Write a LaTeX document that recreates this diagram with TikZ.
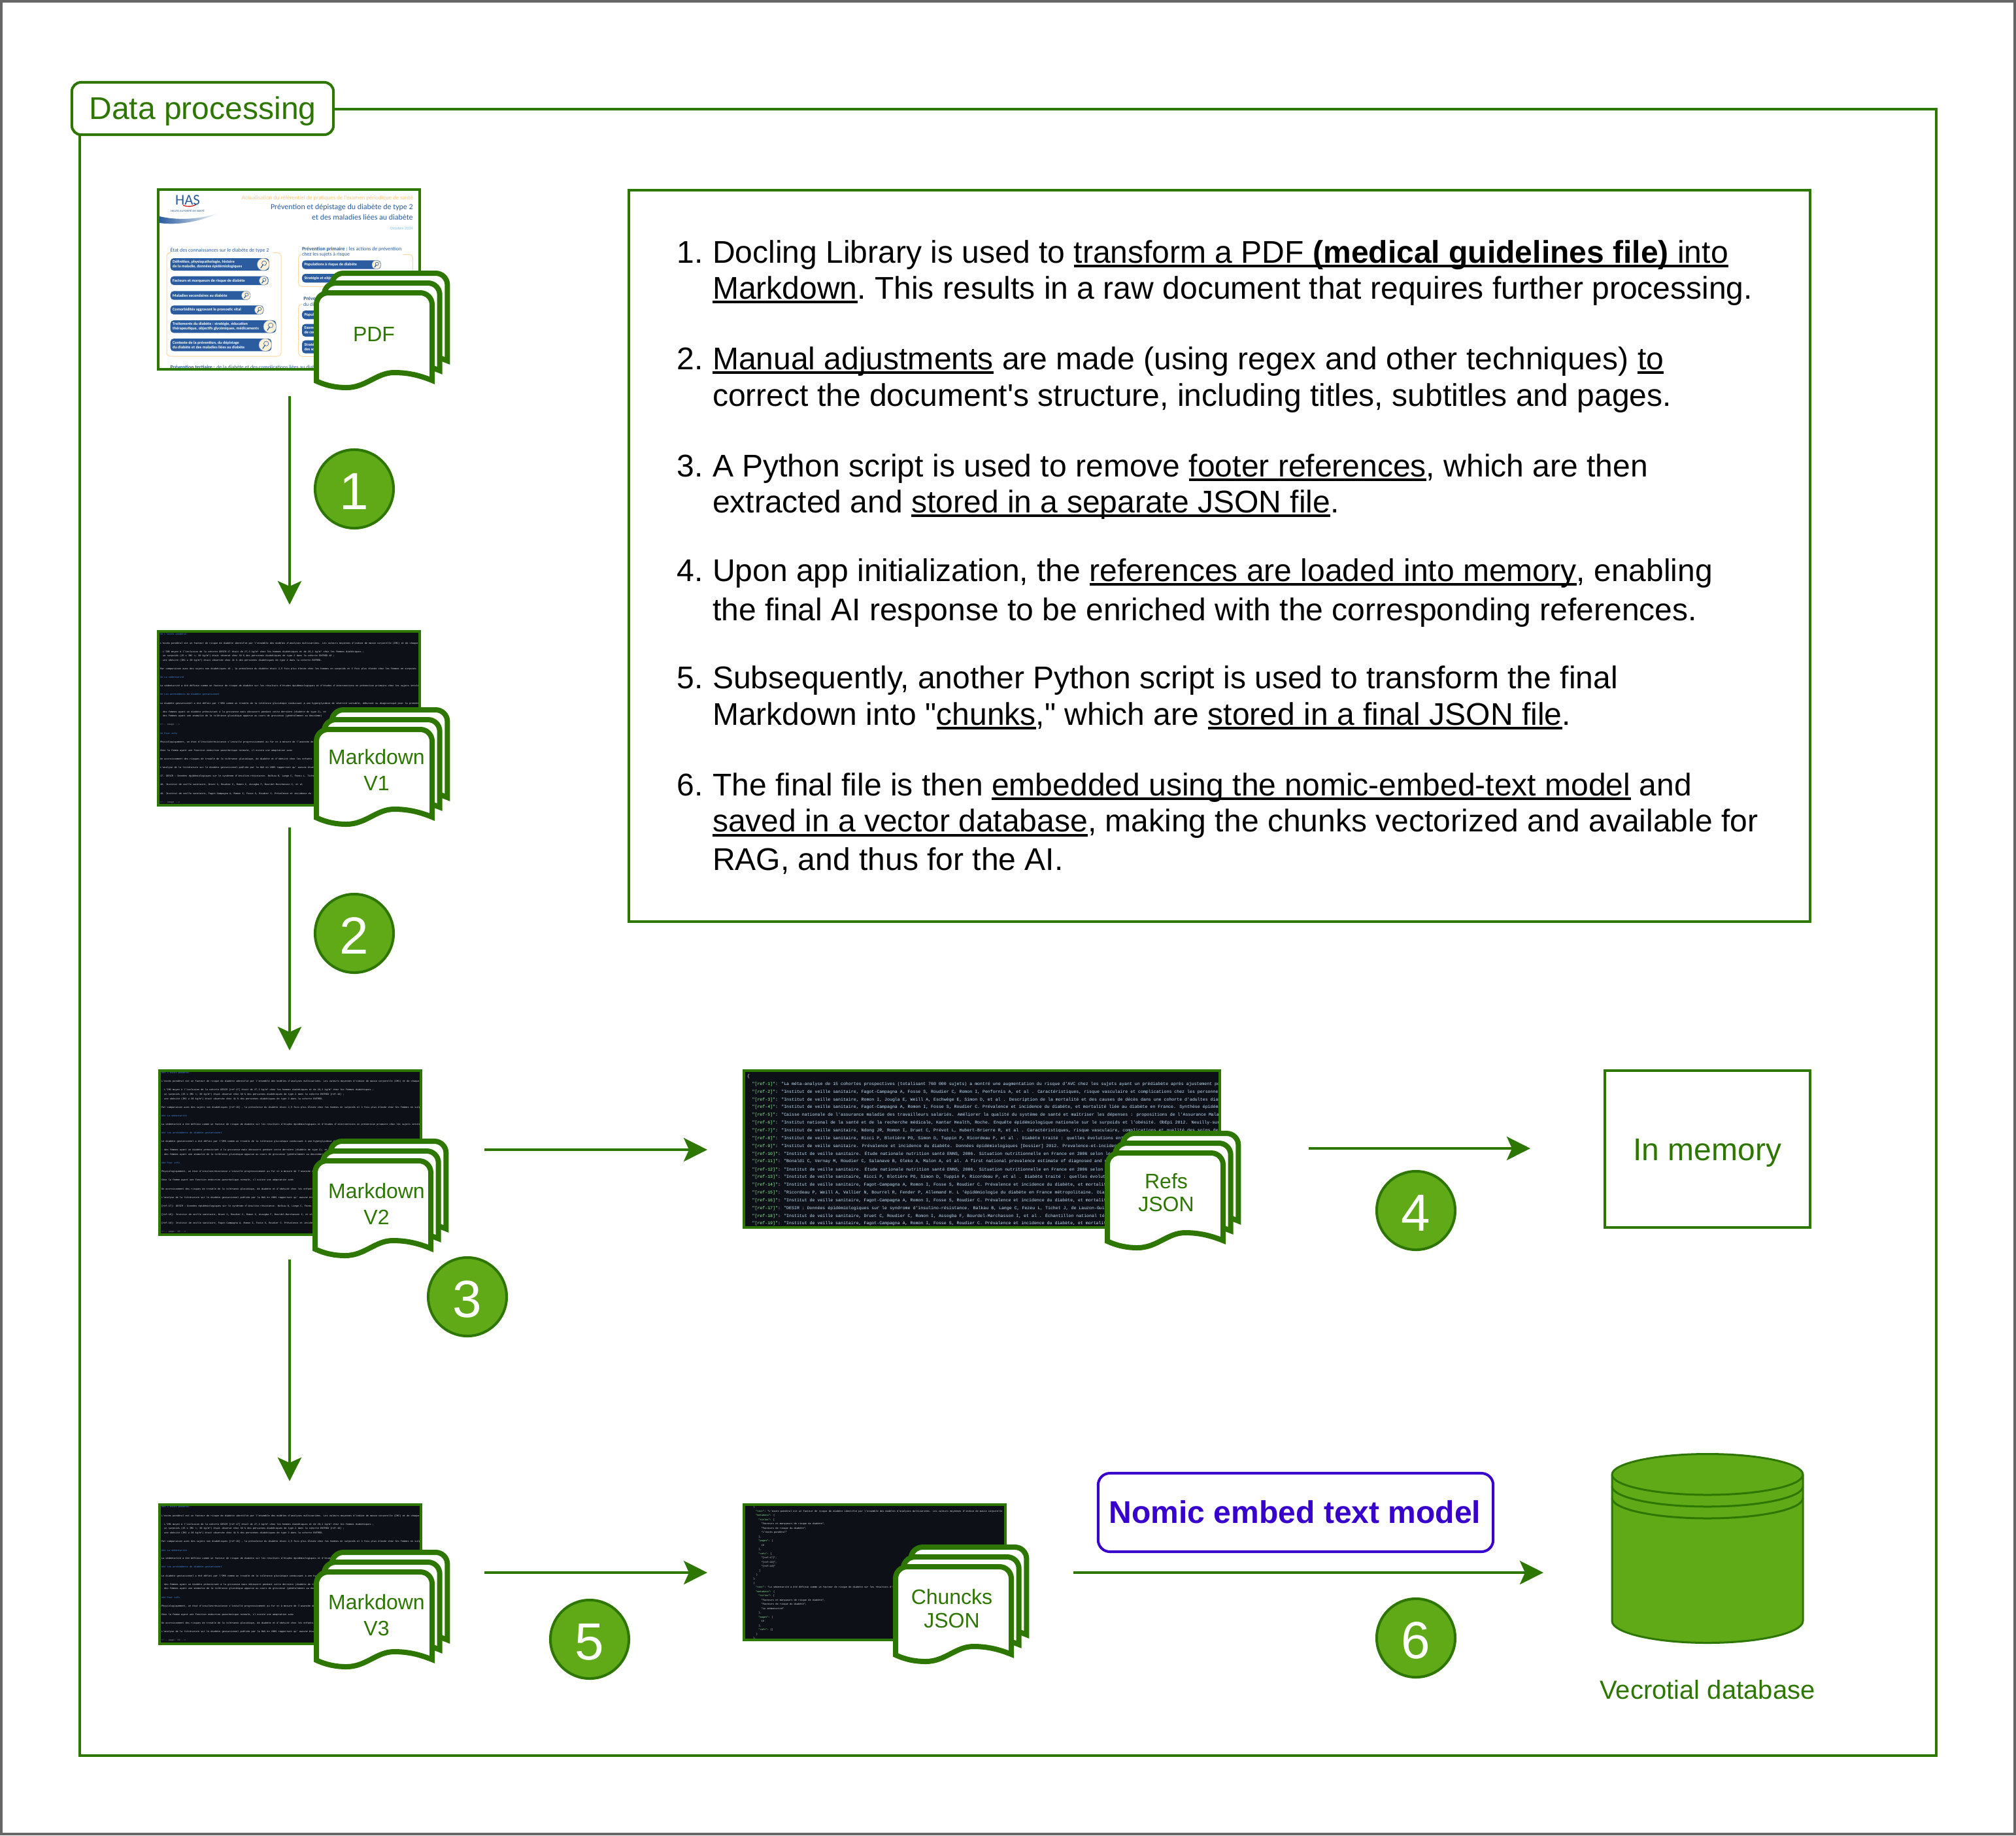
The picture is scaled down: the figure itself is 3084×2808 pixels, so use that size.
\documentclass[tikz,border=0pt]{standalone}
\usepackage{fontspec}
\usepackage{xcolor}
\usetikzlibrary{arrows.meta}
\newfontfamily\arialfont{Liberation Sans}
\newfontfamily\shotfont{Liberation Mono}
\newfontfamily\thumbfont{Carlito}
\definecolor{procgreen}{HTML}{2D7600}
\definecolor{badgegreen}{HTML}{60A917}
\definecolor{nomicblue}{HTML}{3700CC}
\definecolor{shotbg}{HTML}{0D1117}
\definecolor{shotgrey}{HTML}{E6EDF3}
\definecolor{shotblue}{HTML}{4493F8}
\definecolor{shotorange}{HTML}{E3763A}
\definecolor{shotdim}{HTML}{8D95A0}
\definecolor{jsonkey}{HTML}{8EF797}
\definecolor{jsonval}{HTML}{C4E4FF}
\definecolor{hasblue}{HTML}{2A5C9F}
\definecolor{hasorange}{HTML}{FBC77C}
\definecolor{hassky}{HTML}{7FC8EE}
\definecolor{hascream}{HTML}{FFF1D6}
\newcommand{\ulined}[1]{\setbox0\hbox{#1}\rlap{\rule[-0.074cm]{\wd0}{0.04cm}}\box0\relax}
\newcommand{\hdline}[1]{\textcolor{shotblue}{#1}}
\newcommand{\bul}{\textcolor{shotorange}{-}}
% lines shared by the three markdown screens
\newcommand{\mdbody}{0/{\hdline{\mk\ L'excès pondéral}},
  2/{L'excès pondéral est un facteur de risque de diabète identifié par l'ensemble des modèles d'analyses multivariées. Les valeurs moyennes d'indice de masse corporelle (IMC) et de chaque},
  4/{\bul\ L'IMC  moyen  à  l'inclusion  de  la  cohorte  DESIR\ra\ était  de  27,3  kg/m²  chez  les  hommes  diabétiques  et  de 29,2 kg/m² chez les femmes diabétiques ;},
  5/{\bul\ un surpoids (25 ≤ IMC <; 30 kg/m²) était observé chez 39 \% des personnes diabétiques de type 2 dans la cohorte ENTRED \rb\ ;},
  6/{\bul\ une obésité (IMC ≥ 30 kg/m²) était observée chez 41 \% des personnes diabétiques de type 2 dans la cohorte ENTRED.},
  8/{Par comparaison avec des sujets non diabétiques \rc\ , la prévalence du diabète était 2,5 fois plus élevée chez les hommes en surpoids et 3 fois plus élevée chez les femmes en surpoids},
  10/{\hdline{\mk\ La sédentarité}},
  12/{La sédentarité a été définie comme un facteur de risque de diabète sur les résultats d'études épidémiologiques et d'études d'interventions en prévention primaire chez les sujets intolérants},
  14/{\hdline{\mk\ Les antécédents de diabète gestationnel}},
  16/{Le diabète gestationnel a été défini par l'OMS comme un trouble de la tolérance glucidique conduisant à une hyperglycémie de sévérité variable, débutant ou diagnostiqué pour la première},
  18/{\bul\ des femmes ayant un diabète préexistant à la grossesse mais découvert pendant cette dernière (diabète de type 2), et},
  19/{\bul\ des femmes ayant une anomalie de la tolérance glucidique apparue au cours de grossesse (généralement au deuxième)}}
\newcommand{\phys}{Physiologiquement, un état d'insulinorésistance s'installe progressivement au fur et à mesure de l'avancée de}
\newcommand{\chez}{Chez  la  femme  ayant  une  fonction  endocrine  pancréatique  normale,  il  existe  une  adaptation  avec}
\newcommand{\accr}{Un accroissement des risques de trouble de la tolérance glucidique, de diabète et d'obésité chez les enfants}
\newcommand{\anal}{L'analyse de la littérature sur le diabète gestationnel publiée par la HAS en 2005 rapportait qu' aucune étude}
\newcommand{\desir}{DESIR : Données épidémiologiques sur le syndrome d'insulino-résistance. Balkau B, Lange C, Fezeu L, Tichet}
\newcommand{\druet}{Institut de veille sanitaire, Druet C, Roudier C, Romon I, Assogba F, Bourdel-Marchasson I, et al}
\newcommand{\fagot}{Institut de veille sanitaire, Fagot-Campagna A, Romon I, Fosse S, Roudier C. Prévalence et incidence du}
\newcommand{\mdtailA}{21/{\textcolor{shotdim}{<!-- image -->}}, 23/{\hdline{\mk\ Pour info}}, 25/{\phys}, 27/{\chez}, 29/{\accr}, 31/{\anal},
  33/{17.  \desir}, 35/{18.  \druet}, 37/{19.  \fagot}, 39/{\textcolor{shotdim}{<!-- image -->}}}
\newcommand{\mdtailB}{21/{\hdline{\mk\ Pour info}}, 23/{\phys}, 25/{\chez}, 27/{\accr}, 29/{\anal},
  31/{[ref-17]: \desir}, 33/{[ref-18]: \druet}, 35/{[ref-19]: \fagot}, 37/{\textcolor{shotdim}{<!-- page: 10 -->}}}
\newcommand{\mdtailC}{21/{\hdline{\mk\ Pour info}}, 23/{\phys}, 25/{\chez}, 27/{\accr}, 29/{\anal}, 31/{\textcolor{shotdim}{<!-- page: 10 -->}}}
\newcommand{\mdtext}[4]{%
  \begin{scope}
    \clip (#1.south west) rectangle (#1.north east);
    \foreach \s/\lbl in \mdbody {\node[mdline] (#1b\s) at (#2,{#3+\s*6.57}) {\lbl};}
    \foreach \s/\lbl in #4 {\node[mdline] (#1t\s) at (#2,{#3+\s*6.57}) {\lbl};}
  \end{scope}}
\begin{document}
\begin{tikzpicture}[x=0.01cm, y=-0.01cm, >={Stealth[length=0.36cm,width=0.36cm,inset=0.08cm]},
    every node/.style={inner sep=0, outer sep=0},
    flow/.style={->, draw=procgreen, line width=0.04cm},
    shot/.style 2 args={minimum width=#1*0.01cm, minimum height=#2*0.01cm, fill=shotbg},
    shotframe/.style={draw=procgreen, line width=0.04cm},
    docpage/.style={draw=procgreen, fill=white, line width=0.08cm},
    doclabel/.style={anchor=base, text=procgreen, font=\arialfont\fontsize{9.1}{11}\selectfont},
    boxlabel/.style={anchor=base, font=\arialfont\fontsize{13.66}{16}\selectfont},
    badge/.style={circle, minimum size=1.2cm, draw=procgreen, fill=badgegreen, line width=0.04cm, text=white, text height=0.62cm, text depth=0cm, font=\arialfont\fontsize{22.76}{26}\selectfont},
    bodyline/.style={anchor=base west, font=\arialfont\frenchspacing\fontsize{13.66}{16}\selectfont},
    mdline/.style={anchor=west, text=shotgrey, font=\shotfont\fontsize{1.02}{1.2}\selectfont},
    chunkline/.style={anchor=west, text=shotgrey, font=\shotfont\fontsize{1.03}{1.2}\selectfont},
    refline/.style={anchor=west, text=jsonval, font=\shotfont\fontsize{1.87}{2.2}\selectfont},
    pilltext/.style={anchor=west, align=left, text=white, font=\thumbfont\bfseries\fontsize{1.75}{2.05}\selectfont},
    hashead/.style={anchor=west, text=hasblue, font=\thumbfont\fontsize{2.25}{2.6}\selectfont},
    hastitle/.style={anchor=east, text=hasblue, font=\thumbfont\fontsize{3.4}{4}\selectfont},
    hasbox/.style={draw=hasorange!70, line width=0.01cm, rounded corners=0.05cm}]
  \useasboundingbox (0,0) rectangle (3084,2808);
  \draw[draw=black!60, fill=white, line width=0.04cm] (2,2) rectangle (3082,2806);

  % outer frame and its title
  \draw[draw=procgreen, line width=0.04cm] (122,167) rectangle (2962,2686);
  \node[draw=procgreen, fill=white, line width=0.04cm, rounded corners=0.14cm, minimum width=4cm, minimum height=0.8cm] (titleBox) at (310,166) {};
  \node[boxlabel, text=procgreen] (titleText) at (310,182) {Data processing};

  % pdf page
  \node[shot={400}{275}, fill=white] (shotPdf) at (442,427.5) {};
  \begin{scope}
    \clip (shotPdf.south west) rectangle (shotPdf.north east);
    \node[anchor=center, text=hasblue, font=\thumbfont\fontsize{6.5}{7}\selectfont] (hasLogo) at (287,306.5) {HAS};
    \node[anchor=center, text=hasblue, font=\thumbfont\fontsize{1.3}{1.5}\selectfont] (hasName) at (287,322.7) {HAUTE AUTORITÉ DE SANTÉ};
    \draw[red!80!black, line width=0.012cm] (280,314) .. controls (288,317) and (294,316) .. (300,313);
    \shade[left color=hasblue, right color=white] (244,331) .. controls (265,336) and (300,338) .. (337,325) .. controls (305,340) and (270,345) .. (244,341) -- cycle;
    \node[anchor=east, text=hasorange, font=\thumbfont\fontsize{2.5}{2.9}\selectfont] (hasTopic) at (631.7,302.7) {Actualisation du référentiel de pratiques de l'examen périodique de santé};
    \node[hastitle] (hasTitleA) at (631.7,317.7) {Prévention et dépistage du diabète de type 2};
    \node[hastitle] (hasTitleB) at (631.7,332.3) {et des maladies liées au diabète};
    \node[anchor=east, text=hassky, font=\thumbfont\fontsize{1.8}{2.2}\selectfont] (hasDate) at (631.7,349.7) {Octobre 2014};
    \node[hashead] (hasHeadA) at (260.7,382.7) {État des connaissances sur le diabète de type 2};
    \node[hashead] (hasHeadB) at (462,381) {\textbf{Prévention primaire :} les actions de prévention};
    \node[hashead] (hasHeadC) at (462,389.3) {chez les sujets à risque};
    \node[hashead] (hasHeadD) at (464.3,456.7) {\textbf{Prévention secondaire}};
    \node[hashead] (hasHeadE) at (464,465.3) {du diabète};
    \draw[hasbox] (418,386.7) -- (430,386.7) -- (430,545) -- (255,545) -- (255,386.7) -- (258,386.7);
    \draw[hasbox] (616.7,389.3) -- (631.3,389.3) -- (631.3,438.3) -- (456.7,438.3) -- (456.7,389.3) -- (460.7,389.3);
    \draw[hasbox] (460,465.3) -- (456.7,465.3) -- (456.7,545.3) -- (631,545.3) -- (631,465.3) -- (620,465.3);
    \foreach \nm/\xa/\xb/\ya/\yb/\cx/\rad/\lbl in {
        a/260.7/411.7/395/414/402.7/9.3/{Définition, physiopathologie, histoire\\de la maladie, données épidémiologiques},
        b/260.7/410.7/422.7/436/403.3/6.7/{Facteurs et marqueurs de risque de diabète},
        c/260.7/382.7/445.3/458.7/376.3/6.7/{Maladies secondaires au diabète},
        d/260.7/403.3/467.3/481/396.3/6.7/{Comorbidités aggravant le pronostic vital},
        e/260.7/422.3/490/509.3/412.7/9.7/{Traitements du diabète : stratégie, éducation\\thérapeutique, objectifs glycémiques, médicaments},
        f/260.7/415.3/518/537.3/405.7/9.7/{Contexte de la prévention, du dépistage\\du diabète et des maladies liées au diabète},
        g/462/582.7/398.3/411.7/575.7/6.7/{Populations à risque de diabète},
        h/462/600/419/432.3/593/6.7/{Stratégie et objectifs},
        i/462/600/475/488.3/593/6.7/{Populations},
        j/462/600/495.7/515/593/6.7/{Examens\\de contrôle},
        k/462/600/520.7/540.7/593/6.7/{Stratégies\\des soins}}{
      \fill[hasblue, rounded corners=0.05cm] (\xa,\ya) rectangle (\xb,\yb);
      \fill[hascream, draw=hasblue!60, line width=0.005cm] (\cx,{(\ya+\yb)/2}) circle[radius=\rad];
      \draw[hasblue, line width=0.012cm] ({\cx-\rad*0.4},{(\ya+\yb)/2+\rad*0.6}) -- (\cx,{(\ya+\yb)/2});
      \draw[hasblue, line width=0.006cm] ({\cx+\rad*0.15},{(\ya+\yb)/2-\rad*0.2}) circle[radius=\rad*0.38];
      \node[pilltext] (pill\nm) at ({\xa+3.5},{(\ya+\yb)/2}) {\lbl};
    }
    \node[hashead] (hasHeadF) at (260.7,562.7) {\textbf{Prévention tertiaire :} de la diabète et des complications liées au diabète};
  \end{scope}
  \draw[shotframe] (shotPdf.south west) rectangle (shotPdf.north east);

  % markdown screens
  \node[shot={400}{266}] (shotMdA) at (442,1099) {};
  \def\mk{\#\#}\def\ra{-17}\def\rb{18}\def\rc{19}
  \mdtext{shotMdA}{245}{971}{\mdtailA}
  \draw[shotframe] (shotMdA.south west) rectangle (shotMdA.north east);

  \node[shot={400}{251}] (shotMdB) at (444,1763.5) {};
  \def\mk{\#\#\#}\def\ra{ [ref-17]}\def\rb{[ref-18]}\def\rc{[ref-19]}
  \mdtext{shotMdB}{247}{1641.7}{\mdtailB}
  \draw[shotframe] (shotMdB.south west) rectangle (shotMdB.north east);

  \node[shot={400}{213}] (shotMdC) at (444,2408.5) {};
  \mdtext{shotMdC}{247}{2306}{\mdtailC}
  \draw[shotframe] (shotMdC.south west) rectangle (shotMdC.north east);

  % references screen
  \node[shot={728}{240}] (shotRefs) at (1502,1758) {};
  \begin{scope}
    \clip (shotRefs.south west) rectangle (shotRefs.north east);
    \node[refline, text=shotgrey] (refOpen) at (1143,1646.7) {\{};
    \foreach \n/\lbl in {
        1/{"La méta-analyse de 15 cohortes prospectives (totalisant 760 000 sujets) a montré une augmentation du risque d'AVC chez les sujets ayant un prédiabète après ajustement pour},
        2/{"Institut de veille sanitaire, Fagot-Campagna A, Fosse S, Roudier C, Romon I, Penfornis A, et al .  Caractéristiques, risque vasculaire et complications chez les personnes},
        3/{"Institut de veille sanitaire, Romon I, Jougla E, Weill A, Eschwège E, Simon D, et al . Description de la mortalité et des causes de décès dans une cohorte d'adultes diabétiques},
        4/{"Institut de veille sanitaire, Fagot-Campagna A, Romon I, Fosse S, Roudier C. Prévalence et incidence du diabète, et mortalité liée au diabète en France. Synthèse épidémiologique},
        5/{"Caisse nationale de l'assurance maladie des travailleurs salariés. Améliorer la qualité du système de santé et maîtriser les dépenses : propositions de l'Assurance Maladie},
        6/{"Institut national de la santé et de la recherche médicale, Kantar Health, Roche. Enquête épidémiologique nationale sur le surpoids et l'obésité. ObEpi 2012. Neuilly-sur-Seine},
        7/{"Institut de veille sanitaire, Ndong JR, Romon I, Druet C, Prévot L, Hubert-Brierre R, et al . Caractéristiques, risque vasculaire, complications et qualité des soins des},
        8/{"Institut de veille sanitaire, Ricci P, Blotière PO, Simon D, Tuppin P, Ricordeau P, et al . Diabète traité : quelles évolutions entre},
        9/{"Institut de veille sanitaire. Prévalence et incidence du diabète. Données épidémiologiques [Dossier] 2012. Prevalence-et-incidence},
        10/{"Institut de veille sanitaire. Étude nationale nutrition santé ENNS, 2006. Situation nutritionnelle en France en 2006 selon les},
        11/{"Bonaldi C, Vernay M, Roudier C, Salanave B, Oleko A, Malon A, et al. A first national prevalence estimate of diagnosed and un},
        12/{"Institut de veille sanitaire. Étude nationale nutrition santé ENNS, 2006. Situation nutritionnelle en France en 2006 selon les},
        13/{"Institut de veille sanitaire, Ricci P, Blotière PO, Simon D, Tuppin P, Ricordeau P, et al . Diabète traité : quelles évolutions},
        14/{"Institut de veille sanitaire, Fagot-Campagna A, Romon I, Fosse S, Roudier C. Prévalence et incidence du diabète, et mortalité},
        15/{"Ricordeau P, Weill A, Vallier N, Bourrel R, Fender P, Allemand H. L 'épidémiologie du diabète en France métropolitaine. Diabetes},
        16/{"Institut de veille sanitaire, Fagot-Campagna A, Romon I, Fosse S, Roudier C. Prévalence et incidence du diabète, et mortalité},
        17/{"DESIR : Données épidémiologiques sur le syndrome d'insulino-résistance. Balkau B, Lange C, Fezeu L, Tichet J, de Lauzon-Guillain},
        18/{"Institut de veille sanitaire, Druet C, Roudier C, Romon I, Assogba F, Bourdel-Marchasson I, et al . Échantillon national témoin},
        19/{"Institut de veille sanitaire, Fagot-Campagna A, Romon I, Fosse S, Roudier C. Prévalence et incidence du diabète, et mortalité}}{
      \node[refline] (refLine\n) at (1150.6,{1646.7+\n*11.87}) {\textcolor{jsonkey}{"[ref-\n]"}\textcolor{shotgrey}{:} \lbl};
    }
  \end{scope}
  \draw[shotframe] (shotRefs.south west) rectangle (shotRefs.north east);

  % chunks screen
  \node[shot={400}{207}] (shotChunks) at (1338,2405.5) {};
  \begin{scope}
    \clip (shotChunks.south west) rectangle (shotChunks.north east);
    \foreach \s/\ind/\lbl in {
        0/0/{\{}, 1/1/{\textcolor{jsonkey}{"text"}: "L'excès pondéral est un facteur de risque de diabète identifié par l'ensemble des modèles d'analyses multivariées. Les valeurs moyennes d'indice de masse corporelle (IMC)},
        2/1/{\textcolor{jsonkey}{"metadata"}: \{}, 3/2/{\textcolor{jsonkey}{"titles"}: [},
        4/3/{"Facteurs et marqueurs de risque de diabète",}, 5/3/{"Facteurs de risque du diabète",}, 6/3/{"L'excès pondéral"},
        7/2/{],}, 8/2/{\textcolor{jsonkey}{"pages"}: [}, 9/3/{\textcolor{jsonval}{10}}, 10/2/{],}, 11/2/{\textcolor{jsonkey}{"refs"}: [},
        12/3/{"[ref-17]",}, 13/3/{"[ref-18]",}, 14/3/{"[ref-19]"}, 15/2/{]}, 16/1/{\}}, 17/0/{\},}, 18/0/{\{},
        19/1/{\textcolor{jsonkey}{"text"}: "La sédentarité a été définie comme un facteur de risque de diabète sur les résultats d'études},
        20/1/{\textcolor{jsonkey}{"metadata"}: \{}, 21/2/{\textcolor{jsonkey}{"titles"}: [},
        22/3/{"Facteurs et marqueurs de risque de diabète",}, 23/3/{"Facteurs de risque du diabète",}, 24/3/{"La sédentarité"},
        25/2/{],}, 26/2/{\textcolor{jsonkey}{"pages"}: [}, 27/3/{\textcolor{jsonval}{10}}, 28/2/{],}, 29/2/{\textcolor{jsonkey}{"refs"}: []}, 30/1/{\}}, 31/0/{\},}}{
      \node[chunkline] (chunkLine\s) at ({1152+\ind*4.2},{2306+\s*6.47}) {\lbl};
    }
  \end{scope}
  \draw[shotframe] (shotChunks.south west) rectangle (shotChunks.north east);

  % stacked pages over the screens
  \foreach \dx/\dy in {484/448, 484/1116, 482/1776, 484/2405, 1694/1764, 1370/2397}{
    \foreach \o in {2,1,0}{
      \draw[docpage, shift={({\dx+\o*11.7},{\dy-\o*15})}] (0,135) -- (0,18) .. controls (0,8) and (8,0) .. (18,0) -- (159,0) .. controls (169,0) and (177,8) .. (177,18) -- (177,134)
        .. controls (155,125) and (137,122) .. (119,122) .. controls (92,122) and (76,145) .. (46,145) .. controls (30,145) and (15,142) .. (0,135) -- cycle;
    }
  }
  \foreach \nm/\x/\y/\lbl in {Pdf/572/522/PDF, MdAa/576/1169/Markdown, MdAb/576/1209/V1, MdBa/576/1833/Markdown, MdBb/576/1873/V2,
      MdCa/576/2462/Markdown, MdCb/576/2502/V3, RefsA/1784/1818/Refs, RefsB/1784/1853/JSON, ChunksA/1456/2454/Chuncks, ChunksB/1456/2490/JSON}{
    \node[doclabel] (label\nm) at (\x,\y) {\lbl};
  }

  % explanation box
  \draw[draw=procgreen, line width=0.04cm] (962,291) rectangle (2769,1410);
  \foreach \n/\y in {1/402, 2/565, 3/729, 4/889, 5/1053, 6/1217}{
    \node[bodyline, anchor=base east] (itemNum\n) at (1076,\y) {\n.};
  }
  \foreach \y/\lbl [count=\n] in {
      402/{Docling Library is used to \ulined{transform a PDF \textbf{(medical guidelines file)} into}},
      457/{\ulined{Markdown}. This results in a raw document that requires further processing.},
      565/{\ulined{Manual adjustments} are made (using regex and other techniques) \ulined{to}},
      621/{correct the document's structure, including titles, subtitles and pages.},
      729/{A Python script is used to remove \ulined{footer references}, which are then},
      784/{extracted and \ulined{stored in a separate JSON file}.},
      889/{Upon app initialization, the \ulined{references are loaded into memory}, enabling},
      949/{the final AI response to be enriched with the corresponding references.},
      1053/{Subsequently, another Python script is used to transform the final},
      1109/{Markdown into "\ulined{chunks}," which are \ulined{stored in a final JSON file}.},
      1217/{The final file is then \ulined{embedded using the nomic-embed-text model} and},
      1272.5/{\ulined{saved in a vector database}, making the chunks vectorized and available for},
      1331/{RAG, and thus for the AI.}}{
    \node[bodyline] (bodyLine\n) at (1090,\y) {\lbl};
  }

  % memory box, model box and database
  \node[draw=procgreen, line width=0.04cm, minimum width=3.14cm, minimum height=2.4cm] (memoryBox) at (2612,1758) {};
  \node[boxlabel, text=procgreen] (memoryText) at (2612,1775) {In memory};
  \node[draw=nomicblue, line width=0.04cm, rounded corners=0.18cm, minimum width=6.04cm, minimum height=1.2cm] (nomicBox) at (1982,2314) {};
  \node[boxlabel, text=nomicblue, font=\arialfont\bfseries\fontsize{13.66}{16}\selectfont] (nomicText) at (1981,2330) {Nomic embed text model};
  \draw[draw=procgreen, fill=badgegreen, line width=0.03cm] (2466,2256) -- (2466,2480) .. controls (2466,2498) and (2531,2513.5) .. (2612,2513.5) .. controls (2693,2513.5) and (2758,2498) .. (2758,2480)
    -- (2758,2256) .. controls (2758,2239) and (2693,2224.5) .. (2612,2224.5) .. controls (2531,2224.5) and (2466,2239) .. (2466,2256) -- cycle;
  \foreach \d in {0,18,36}{
    \draw[draw=procgreen, line width=0.03cm] (2466,{2256+\d}) .. controls (2466,{2273+\d}) and (2531,{2287+\d}) .. (2612,{2287+\d}) .. controls (2693,{2287+\d}) and (2758,{2273+\d}) .. (2758,{2256+\d});
  }
  \node[anchor=base, text=procgreen, font=\arialfont\fontsize{11.38}{14}\selectfont] (dbLabel) at (2612,2599) {Vecrotial database};

  % connectors
  \foreach \nm/\xa/\ya/\xb/\yb in {arrA/443/606/443/925, arrB/443/1266/443/1607, arrC/443/1927/443/2266, arrD/741/1759/1082/1759,
      arrE/2002/1757/2341/1757, arrF/741/2406/1082/2406, arrG/1642/2406/2361/2406}{
    \coordinate (\nm s) at (\xa,\ya);
    \coordinate (\nm e) at (\xb,\yb);
    \draw[flow] (\nm s) -- (\nm e);
  }

  % step numbers
  \foreach \n/\x/\y in {1/542/748, 2/542/1428, 3/715/1984, 4/2166/1852, 5/902/2508, 6/2166/2506}{
    \node[badge] (badge\n) at (\x,\y) {\n};
  }
\end{tikzpicture}
\end{document}
